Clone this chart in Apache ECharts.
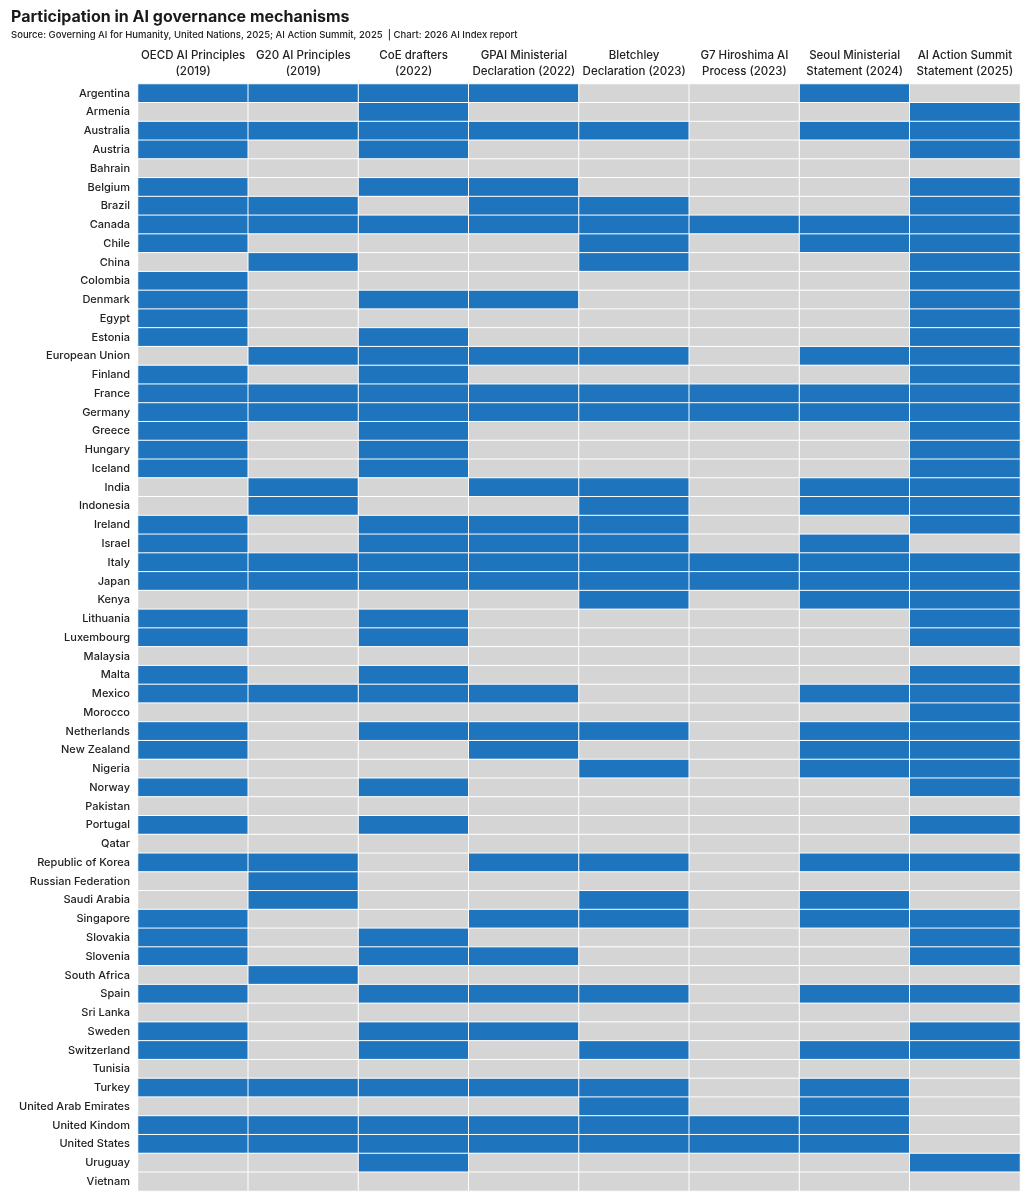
<!DOCTYPE html>
<html>
<head>
<meta charset="utf-8">
<title>Participation in AI governance mechanisms</title>
<script src="https://cdn.jsdelivr.net/npm/echarts@6/dist/echarts.min.js"></script>
<style>
html,body{margin:0;padding:0;background:#fff;}
#main{width:1025px;height:1200px;}
</style>
</head>
<body>
<div id="main"></div>
<script>
// 机制（列）
var mechanisms = [
	'OECD AI Principles\n(2019)',
	'G20 AI Principles\n(2019)',
	'CoE drafters\n(2022)',
	'GPAI Ministerial\nDeclaration (2022)',
	'Bletchley\nDeclaration (2023)',
	'G7 Hiroshima AI\nProcess (2023)',
	'Seoul Ministerial\nStatement (2024)',
	'AI Action Summit\nStatement (2025)'
];
// 国家（行）
var countries = [
	'Argentina','Armenia','Australia','Austria','Bahrain','Belgium','Brazil','Canada','Chile','China',
	'Colombia','Denmark','Egypt','Estonia','European Union','Finland','France','Germany','Greece','Hungary',
	'Iceland','India','Indonesia','Ireland','Israel','Italy','Japan','Kenya','Lithuania','Luxembourg',
	'Malaysia','Malta','Mexico','Morocco','Netherlands','New Zealand','Nigeria','Norway','Pakistan','Portugal',
	'Qatar','Republic of Korea','Russian Federation','Saudi Arabia','Singapore','Slovakia','Slovenia','South Africa','Spain','Sri Lanka',
	'Sweden','Switzerland','Tunisia','Turkey','United Arab Emirates','United Kindom','United States','Uruguay','Vietnam'
];
// 参与情况 1=参与 0=未参与，顺序同 mechanisms
var participation = [
	[1,1,1,1,0,0,1,0], // Argentina
	[0,0,1,0,0,0,0,1], // Armenia
	[1,1,1,1,1,0,1,1], // Australia
	[1,0,1,0,0,0,0,1], // Austria
	[0,0,0,0,0,0,0,0], // Bahrain
	[1,0,1,1,0,0,0,1], // Belgium
	[1,1,0,1,1,0,0,1], // Brazil
	[1,1,1,1,1,1,1,1], // Canada
	[1,0,0,0,1,0,1,1], // Chile
	[0,1,0,0,1,0,0,1], // China
	[1,0,0,0,0,0,0,1], // Colombia
	[1,0,1,1,0,0,0,1], // Denmark
	[1,0,0,0,0,0,0,1], // Egypt
	[1,0,1,0,0,0,0,1], // Estonia
	[0,1,1,1,1,0,1,1], // European Union
	[1,0,1,0,0,0,0,1], // Finland
	[1,1,1,1,1,1,1,1], // France
	[1,1,1,1,1,1,1,1], // Germany
	[1,0,1,0,0,0,0,1], // Greece
	[1,0,1,0,0,0,0,1], // Hungary
	[1,0,1,0,0,0,0,1], // Iceland
	[0,1,0,1,1,0,1,1], // India
	[0,1,0,0,1,0,1,1], // Indonesia
	[1,0,1,1,1,0,0,1], // Ireland
	[1,0,1,1,1,0,1,0], // Israel
	[1,1,1,1,1,1,1,1], // Italy
	[1,1,1,1,1,1,1,1], // Japan
	[0,0,0,0,1,0,1,1], // Kenya
	[1,0,1,0,0,0,0,1], // Lithuania
	[1,0,1,0,0,0,0,1], // Luxembourg
	[0,0,0,0,0,0,0,0], // Malaysia
	[1,0,1,0,0,0,0,1], // Malta
	[1,1,1,1,0,0,1,1], // Mexico
	[0,0,0,0,0,0,0,1], // Morocco
	[1,0,1,1,1,0,1,1], // Netherlands
	[1,0,0,1,0,0,1,1], // New Zealand
	[0,0,0,0,1,0,1,1], // Nigeria
	[1,0,1,0,0,0,0,1], // Norway
	[0,0,0,0,0,0,0,0], // Pakistan
	[1,0,1,0,0,0,0,1], // Portugal
	[0,0,0,0,0,0,0,0], // Qatar
	[1,1,0,1,1,0,1,1], // Republic of Korea
	[0,1,0,0,0,0,0,0], // Russian Federation
	[0,1,0,0,1,0,1,0], // Saudi Arabia
	[1,0,0,1,1,0,1,1], // Singapore
	[1,0,1,0,0,0,0,1], // Slovakia
	[1,0,1,1,0,0,0,1], // Slovenia
	[0,1,0,0,0,0,0,0], // South Africa
	[1,0,1,1,1,0,1,1], // Spain
	[0,0,0,0,0,0,0,0], // Sri Lanka
	[1,0,1,1,0,0,0,1], // Sweden
	[1,0,1,0,1,0,1,1], // Switzerland
	[0,0,0,0,0,0,0,0], // Tunisia
	[1,1,1,1,1,0,1,0], // Turkey
	[0,0,0,0,1,0,1,0], // United Arab Emirates
	[1,1,1,1,1,1,1,0], // United Kindom
	[1,1,1,1,1,1,1,0], // United States
	[0,0,1,0,0,0,0,1], // Uruguay
	[0,0,0,0,0,0,0,0]  // Vietnam
];

var font = 'Inter, "Noto Sans", sans-serif';
var cells = [];
for(var r=0;r<countries.length;r++){
	for(var c=0;c<mechanisms.length;c++){
		cells.push([c, r, participation[r][c]]);
	}
}

var chart = echarts.init(document.getElementById('main'));
var option = {
	backgroundColor: '#fff',
	animation: false,
	title: [{
		text: 'Participation in AI governance mechanisms',
		left: 6, top: 4,
		textStyle: {fontFamily: font, fontSize: 16, fontWeight: 'bold', color: '#1a1a1a'}
	},{
		text: 'Source: Governing AI for Humanity, United Nations, 2025; AI Action Summit, 2025  | Chart: 2026 AI Index report',
		left: 6, top: 25,
		textStyle: {fontFamily: font, fontSize: 9.5, fontWeight: 500, color: '#222'}
	}],
	grid: {left: 138, right: 5, top: 84, bottom: 9},
	xAxis: {
		type: 'category',
		position: 'top',
		data: mechanisms,
		axisLine: {show: false},
		axisTick: {show: false},
		splitLine: {show: false},
		axisLabel: {
			interval: 0, margin: 4, lineHeight: 16,
			fontFamily: font, fontSize: 11.5, fontWeight: 500, color: '#222', align: 'center'
		}
	},
	yAxis: {
		type: 'category',
		inverse: true,
		data: countries,
		axisLine: {show: false},
		axisTick: {show: false},
		splitLine: {show: false},
		axisLabel: {
			interval: 0, margin: 8,
			fontFamily: font, fontSize: 11, fontWeight: 500, color: '#222'
		}
	},
	visualMap: {
		show: false,
		type: 'piecewise',
		dimension: 2,
		pieces: [
			{value: 1, color: '#1f74be'},
			{value: 0, color: '#d5d5d5'}
		]
	},
	series: [{
		type: 'heatmap',
		data: cells,
		itemStyle: {borderColor: '#fff', borderWidth: 1},
		emphasis: {disabled: true}
	}]
};
chart.setOption(option);
</script>
</body>
</html>
